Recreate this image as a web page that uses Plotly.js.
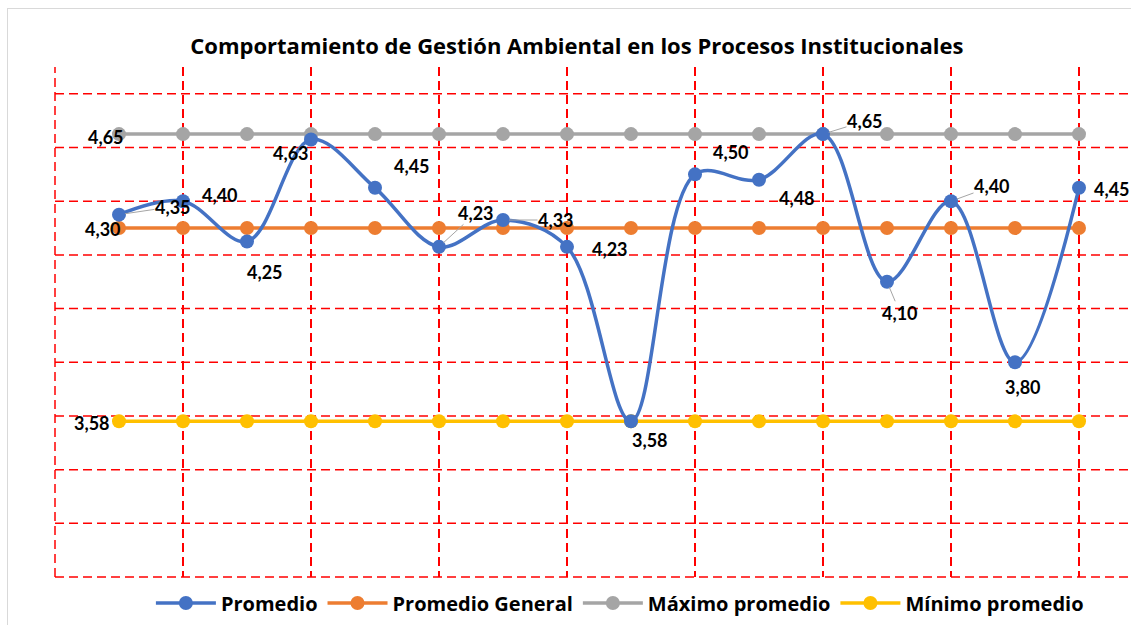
<!DOCTYPE html>
<html>
<head>
<meta charset="utf-8">
<script src="https://cdn.plot.ly/plotly-3.0.1.min.js"></script>
<style>
html,body{margin:0;padding:0;background:#fff;overflow:hidden;}
#wrap{position:relative;width:1131px;height:625px;overflow:hidden;}
#chart{position:absolute;left:0;top:0;width:1131px;height:625px;}
#frame{position:absolute;left:7px;top:8px;width:1200px;height:700px;border:1.5px solid #D9D9D9;pointer-events:none;}
</style>
</head>
<body>
<div id="wrap"><div id="chart"></div><div id="frame"></div></div>
<script>
// ---- data ----
const procesos = [1,2,3,4,5,6,7,8,9,10,11,12,13,14,15,16];
const promedio = [4.35,4.40,4.25,4.63,4.45,4.23,4.33,4.23,3.58,4.50,4.48,4.65,4.10,4.40,3.80,4.45];
const promedioGeneral = [4.30,4.30,4.30,4.30,4.30,4.30,4.30,4.30,4.30,4.30,4.30,4.30,4.30,4.30,4.30,4.30];
const maximoPromedio = [4.65,4.65,4.65,4.65,4.65,4.65,4.65,4.65,4.65,4.65,4.65,4.65,4.65,4.65,4.65,4.65];
const minimoPromedio = [3.58,3.58,3.58,3.58,3.58,3.58,3.58,3.58,3.58,3.58,3.58,3.58,3.58,3.58,3.58,3.58];
const seriesNames = ["Promedio","Promedio General","Máximo promedio","Mínimo promedio"];
const titleText = "Comportamiento de Gestión Ambiental en los Procesos Institucionales";
const yGridValues = [3.2,3.4,3.6,3.8,4.0,4.2,4.4,4.6,4.8];

// ---- label placement (pixel offsets: dx, dy, leader line) ----
const promLabelPos = [[54,-8,1],[37,-6,0],[18,31,0],[-20,14,0],[37,-22,0],[37,-34,1],[53,0,1],[43,2,0],
                      [19,19,0],[36,-22,0],[38,18,0],[42,-13,1],[13,31,1],[41,-15,1],[8,25,0],[33,1,0]];
const firstLabelPos = {pg:[-16,1], max:[-13,3], min:[-27,2]};

const colors = ["#4472C4","#ED7D31","#A5A5A5","#FFC000"];
const fmt = v => v.toFixed(2).replace('.', ',');
const FONT = "Lato, 'Open Sans', sans-serif";
const WFONT = "'Open Sans', Lato, sans-serif";
const GRID = {color: '#FF0000', width: 1.5, dash: '9px,5px'};

function series(y, i, spline) {
  return {
    x: procesos, y: y, name: seriesNames[i], type: 'scatter', mode: 'lines+markers',
    line: {color: colors[i], width: 3.5, shape: spline ? 'spline' : 'linear', smoothing: 1},
    marker: {color: colors[i], size: 14},
    cliponaxis: false
  };
}
const traces = [
  series(promedio, 0, true),
  series(promedioGeneral, 1, false),
  series(maximoPromedio, 2, false),
  series(minimoPromedio, 3, false)
];
const data = [traces[1], traces[2], traces[3], traces[0]];
data.forEach(t => { t.legendrank = seriesNames.indexOf(t.name) + 1; });

const annotations = [];
function lab(x, y, dx, dy, leader) {
  annotations.push({
    x: x, y: y, xref: 'x', yref: 'y', text: fmt(y), showarrow: true,
    ax: dx, ay: dy, axref: 'pixel', ayref: 'pixel',
    arrowhead: 0, arrowwidth: 1, standoff: 6,
    arrowcolor: leader ? '#A5A5A5' : 'rgba(0,0,0,0)',
    font: {family: FONT, size: 18, color: '#000', weight: 'bold'},
    borderpad: 0
  });
}
promedio.forEach((v, i) => lab(procesos[i], v, promLabelPos[i][0], promLabelPos[i][1], promLabelPos[i][2]));
lab(procesos[0], promedioGeneral[0], firstLabelPos.pg[0], firstLabelPos.pg[1], 0);
lab(procesos[0], maximoPromedio[0], firstLabelPos.max[0], firstLabelPos.max[1], 0);
lab(procesos[0], minimoPromedio[0], firstLabelPos.min[0], firstLabelPos.min[1], 0);

const shapes = [
  {type: 'line', xref: 'paper', yref: 'paper', x0: 0, x1: 0, y0: 0, y1: 1, line: GRID, layer: 'below'},
  {type: 'line', xref: 'paper', yref: 'paper', x0: 0, x1: 1, y0: 0, y1: 0, line: GRID, layer: 'below'}
];
yGridValues.forEach(v => shapes.push({type: 'line', xref: 'paper', yref: 'y', x0: 0, x1: 1, y0: v, y1: v, line: GRID, layer: 'below'}));

const layout = {
  width: 1131, height: 625,
  margin: {l: 55, r: 0, t: 67, b: 48, pad: 0},
  paper_bgcolor: '#fff', plot_bgcolor: '#fff',
  font: {family: FONT, color: '#000'},
  title: {
    text: '<b>' + titleText + '</b>',
    font: {family: WFONT, size: 22, color: '#000'},
    xref: 'container', x: 0.51, xanchor: 'center',
    yref: 'container', y: 1 - 46/625, yanchor: 'middle'
  },
  xaxis: {
    range: [0, 16.8125], showticklabels: false, ticks: '', zeroline: false,
    tick0: 0, dtick: 2, showgrid: true, gridcolor: '#FF0000', gridwidth: 1.5, griddash: '9px,5px',
    showline: false
  },
  yaxis: {
    range: [3.0, 4.9], showticklabels: false, ticks: '', zeroline: false,
    showgrid: false, showline: false
  },
  shapes: shapes,
  showlegend: true,
  legend: {
    orientation: 'h', x: 0.525, xanchor: 'center', y: -0.051, yanchor: 'middle',
    font: {family: WFONT, size: 20, color: '#000', weight: 'bold'},
    itemwidth: 60,
    traceorder: 'normal', itemclick: false, bgcolor: 'rgba(0,0,0,0)'
  },
  annotations: annotations
};

Plotly.newPlot('chart', data, layout, {displayModeBar: false, staticPlot: true});
</script>
</body>
</html>
